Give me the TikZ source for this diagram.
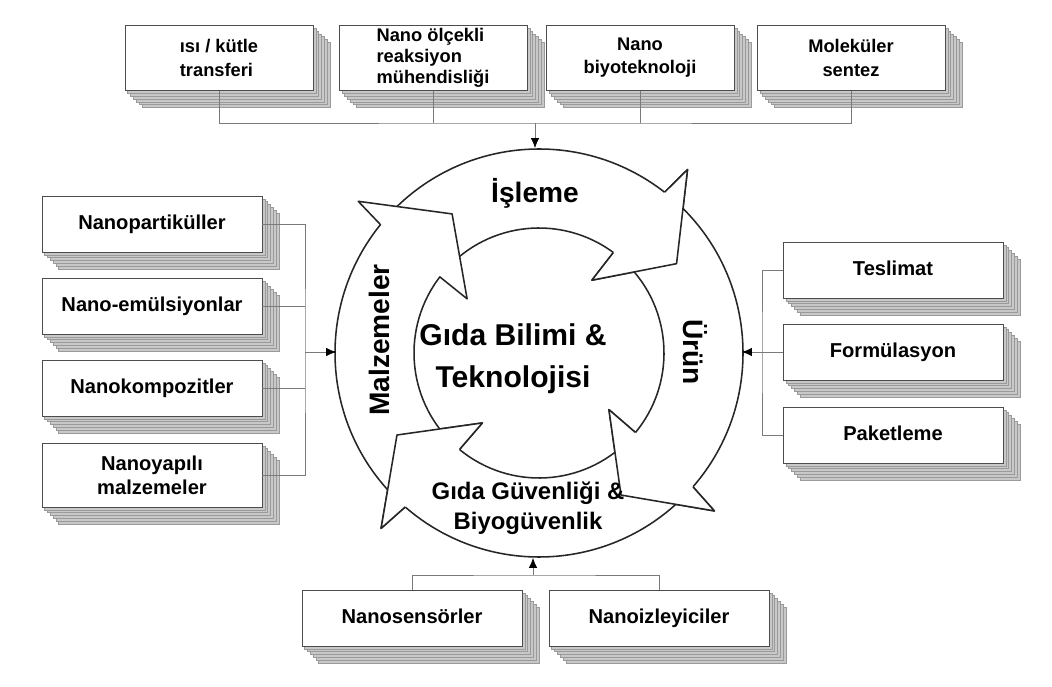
\documentclass[tikz,border=0pt]{standalone}
\usepackage{fontspec}
\setmainfont{Liberation Sans}
\usepackage{tikz}
\usetikzlibrary{arrows.meta, shadows}
\definecolor{slabside}{HTML}{C8C8C8}
\definecolor{slabedge}{HTML}{9A9A9A}
\definecolor{busgray}{HTML}{7A7A7A}

\begin{document}
\begin{tikzpicture}[x=0.025cm, y=0.025cm,
    slab/.style={draw=black!70, fill=white, line width=0.6pt,
      font=\bfseries\fontsize{14.3}{17}\selectfont, align=center, inner sep=1pt,
      general shadow={fill=slabside, draw=slabedge, line width=0.4pt, shadow xshift=0.42cm, shadow yshift=-0.42cm},
      general shadow={fill=slabside, draw=slabedge, line width=0.4pt, shadow xshift=0.35cm, shadow yshift=-0.35cm},
      general shadow={fill=slabside, draw=slabedge, line width=0.4pt, shadow xshift=0.28cm, shadow yshift=-0.28cm},
      general shadow={fill=slabside, draw=slabedge, line width=0.4pt, shadow xshift=0.21cm, shadow yshift=-0.21cm},
      general shadow={fill=slabside, draw=slabedge, line width=0.4pt, shadow xshift=0.14cm, shadow yshift=-0.14cm},
      general shadow={fill=slabside, draw=slabedge, line width=0.4pt, shadow xshift=0.07cm, shadow yshift=-0.07cm}},
    topslab/.style={slab, minimum width=4.7cm, minimum height=1.63cm,
      font=\bfseries\fontsize{13}{16.5}\selectfont},
    sideslab/.style={slab, minimum width=5.5cm, minimum height=1.4cm,
      text height=0.72em, text depth=0em},
    ring/.style={draw=black!85, fill=white, line width=1.1pt, line join=round},
    ringlabel/.style={font=\bfseries\fontsize{20}{24}\selectfont},
    bus/.style={draw=busgray, line width=0.5pt},
    feed/.style={bus, -{Latex[color=black, length=7pt, width=6pt]}}
]
  \useasboundingbox (0,0) rectangle (1052,686);

  % Ring of four arrows
  \begin{scope}[shift={(539,333)}]
    \foreach \t/\b in {138/52, 49/-41, -44/-131, -134/-219} {
      \draw[ring] (\t:204) arc[start angle=\t, end angle=\b, radius=204]
        -- ({\b-1}:236) -- ({\b-19}:164) -- ({\b+2}:90) -- ({\b+1.5}:125)
        arc[start angle={\b+1.5}, end angle=\t, radius=125] -- cycle;
    }
    % heads laid again over the next tail
    \foreach \b in {52, -41, -131} {
      \fill[white] (\b:204) -- ({\b-1}:236) -- ({\b-19}:164) -- ({\b+2}:90) -- ({\b+1.5}:125) -- cycle;
      \draw[ring, fill=none] (\b:204) -- ({\b-1}:236) -- ({\b-19}:164) -- ({\b+2}:90) -- ({\b+1.5}:125);
    }
  \end{scope}

  % Texts in the ring
  \node[ringlabel] (isleme) at (535,493) {İşleme};
  \node[ringlabel, rotate=-90] (urun) at (695,334) {Ürün};
  \node[ringlabel, rotate=90] (malzemeler) at (379,346) {Malzemeler};
  \node[font=\bfseries\fontsize{17}{21}\selectfont, align=center] (guvenlik) at (528,178)
    {Gıda Güvenliği \&\\Biyogüvenlik};
  \node[font=\bfseries\fontsize{21.4}{30}\selectfont, align=center] (merkez) at (513,327)
    {Gıda Bilimi \&\\Teknolojisi};

  % Top row
  \node[topslab, align=left] (t1) at (219,628) {ısı / kütle\\transferi};
  \node[topslab, align=left, font=\bfseries\fontsize{13}{15}\selectfont] (t2) at (433,628)
    {Nano ölçekli\\reaksiyon\\mühendisliği};
  \node[topslab] (t3) at (640,628) {Nano\\biyoteknoloji};
  \node[topslab] (t4) at (851,628) {Moleküler\\sentez};

  % Left column
  \node[sideslab] (l1) at (152,462) {Nanopartiküller};
  \node[sideslab] (l2) at (152,380) {Nano-emülsiyonlar};
  \node[sideslab] (l3) at (152,298) {Nanokompozitler};
  \node[sideslab, minimum height=1.6cm, text height=, text depth=] (l4) at (152,211)
    {Nanoyapılı\\malzemeler};

  % Right column
  \node[sideslab] (r1) at (893,416) {Teslimat};
  \node[sideslab] (r2) at (893,334) {Formülasyon};
  \node[sideslab] (r3) at (893,251) {Paketleme};

  % Bottom row
  \node[sideslab] (b1) at (412,68) {Nanosensörler};
  \node[sideslab] (b2) at (659,68) {Nanoizleyiciler};

  % Join points and tips at the ring
  \coordinate (topjoin) at (535,563);
  \coordinate (toptip) at (535,538);
  \coordinate (leftjoin) at (305,334);
  \coordinate (lefttip) at (336,334);
  \coordinate (rightjoin) at (762,334);
  \coordinate (righttip) at (742,334);
  \coordinate (bottomjoin) at (533,111);
  \coordinate (bottomtip) at (533,128);

  % Connectors
  \draw[bus] (t1.south) |- (topjoin) -| (t4.south);
  \draw[bus] (t2.south) -- (t2.south |- topjoin);
  \draw[bus] (t3.south) -- (t3.south |- topjoin);
  \draw[feed] (topjoin) -- (toptip);

  \draw[bus] (l1.east) -| (leftjoin) |- (l4.east);
  \draw[bus] (l2.east) -- (l2.east -| leftjoin);
  \draw[bus] (l3.east) -- (l3.east -| leftjoin);
  \draw[feed] (leftjoin) -- (lefttip);

  \draw[bus] (r1.west) -| (rightjoin) |- (r3.west);
  \draw[bus] (r2.west) -- (rightjoin);
  \draw[feed] (rightjoin) -- (righttip);

  \draw[bus] (b1.north) |- (bottomjoin) -| (b2.north);
  \draw[feed] (bottomjoin) -- (bottomtip);
\end{tikzpicture}
\end{document}
